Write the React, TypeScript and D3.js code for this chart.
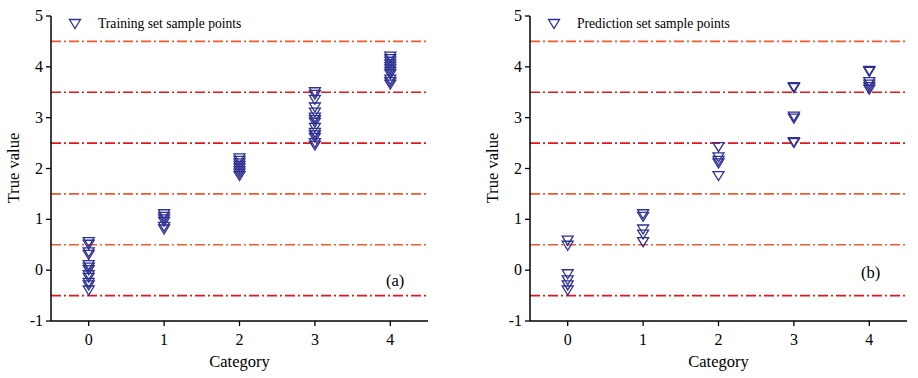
import React from "react";
import * as d3 from "d3";

const categories = [0, 1, 2, 3, 4];
const yTicks = [-1, 0, 1, 2, 3, 4, 5];
const boundaries = [-0.5, 0.5, 1.5, 2.5, 3.5, 4.5];

const trainCat0 = [0.55, 0.5, 0.35, 0.3, 0.1, 0.05, 0.0, -0.1, -0.15, -0.25, -0.3, -0.4];
const trainCat1 = [1.1, 1.05, 1.0, 0.95, 0.85, 0.8];
const trainCat2 = [2.2, 2.15, 2.1, 2.05, 2.0, 1.95, 1.9, 1.85];
const trainCat3 = [3.5, 3.45, 3.35, 3.2, 3.1, 3.0, 2.95, 2.9, 2.8, 2.7, 2.65, 2.6, 2.5, 2.45];
const trainCat4 = [4.2, 4.15, 4.1, 4.05, 4.0, 3.95, 3.9, 3.85, 3.75, 3.7, 3.65];

const predCat0 = [0.58, 0.48, -0.08, -0.2, -0.3, -0.4];
const predCat1 = [1.1, 1.05, 0.8, 0.7, 0.55];
const predCat2 = [2.42, 2.22, 2.15, 2.1, 1.85];
const predCat3 = [3.6, 3.58, 3.02, 2.98, 2.52, 2.5];
const predCat4 = [3.92, 3.9, 3.7, 3.65, 3.6, 3.55];

const trainSeries = [trainCat0, trainCat1, trainCat2, trainCat3, trainCat4];
const predSeries = [predCat0, predCat1, predCat2, predCat3, predCat4];

const lineColors = ["#e3161b", "#f05a2c", "#f05a2c", "#e3161b", "#e3161b", "#f05a2c"];
const FONT = "'Liberation Serif', 'Times New Roman', serif";
const MARK = "#2e3192";

function tri(cx: number, cy: number) {
  const w = 5.5, h = 4.5;
  return `M${cx - w},${cy - h}L${cx + w},${cy - h}L${cx},${cy + h}Z`;
}

function Panel({ ox, series, legend, tag, tagX, tagY }: { ox: number; series: number[][]; legend: string; tag: string; tagX: number; tagY: number }) {
  const x = d3.scaleLinear().domain([-0.5, 4.5]).range([ox, ox + 377]);
  const y = d3.scaleLinear().domain([-1, 5]).range([321, 16]);
  const left = x(-0.5);
  const right = x(4.5);
  return (
    <g>
      {boundaries.map((b, i) => (
        <line key={"b" + i} x1={left} x2={right} y1={y(b)} y2={y(b)} stroke={lineColors[i]} strokeWidth={1.7} strokeDasharray="10,3,2,3" />
      ))}
      <line x1={left} x2={left} y1={y(5)} y2={y(-1)} stroke="#000" strokeWidth={1.5} />
      <line x1={left} x2={right} y1={y(-1)} y2={y(-1)} stroke="#000" strokeWidth={1.5} />
      {yTicks.map((t) => (
        <g key={"y" + t}>
          <line x1={left - 5} x2={left} y1={y(t)} y2={y(t)} stroke="#000" strokeWidth={1.3} />
          <text x={left - 8} y={y(t) + 5} textAnchor="end" fontFamily={FONT} fontSize={16}>{t}</text>
        </g>
      ))}
      {categories.map((c) => (
        <g key={"x" + c}>
          <line x1={x(c)} x2={x(c)} y1={y(-1)} y2={y(-1) + 5} stroke="#000" strokeWidth={1.3} />
          <text x={x(c)} y={345} textAnchor="middle" fontFamily={FONT} fontSize={16}>{c}</text>
        </g>
      ))}
      <text x={(left + right) / 2} y={367} textAnchor="middle" fontFamily={FONT} fontSize={16.5}>Category</text>
      <text transform={`translate(${left - 32},${168}) rotate(-90)`} textAnchor="middle" fontFamily={FONT} fontSize={16.5}>True value</text>
      {series.map((vals, ci) =>
        vals.map((v, j) => (
          <path key={ci + "-" + j} d={tri(x(categories[ci]), y(v))} fill="none" stroke={MARK} strokeWidth={1.3} />
        ))
      )}
      <path d={tri(left + 24, 24)} fill="none" stroke={MARK} strokeWidth={1.3} />
      <text x={left + 47} y={28} fontFamily={FONT} fontSize={13.6}>{legend}</text>
      <text x={tagX} y={tagY} fontFamily={FONT} fontSize={16.5}>{tag}</text>
    </g>
  );
}

export default function App() {
  return (
    <svg width={918} height={378} style={{ position: "absolute", left: 0, top: 0, background: "#fff" }}>
      <Panel ox={51} series={trainSeries} legend="Training set sample points" tag="(a)" tagX={386} tagY={286} />
      <Panel ox={530} series={predSeries} legend="Prediction set sample points" tag="(b)" tagX={861} tagY={278} />
    </svg>
  );
}
